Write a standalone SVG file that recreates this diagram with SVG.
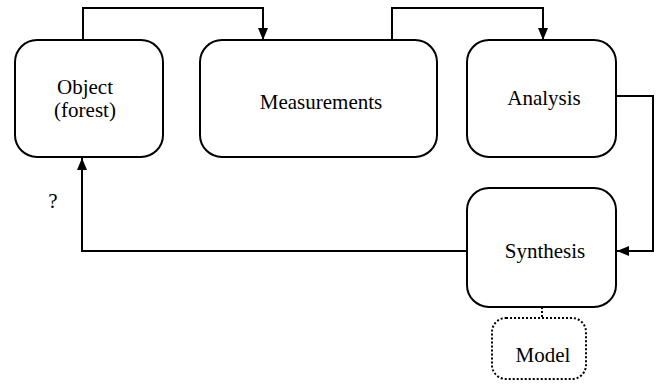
<svg xmlns="http://www.w3.org/2000/svg" width="656" height="391" viewBox="0 0 656 391">
<style>
.box{fill:#fff;stroke:#000;stroke-width:2}
.dot{fill:#fff;stroke:#000;stroke-width:2;stroke-dasharray:2 2}
.t{font-family:'Liberation Serif','Times New Roman','DejaVu Serif',serif;font-size:21px;fill:#000;text-anchor:middle}
.c{fill:none;stroke:#000;stroke-width:2}
</style>
<defs>
<marker id="a" viewBox="0 0 12 10" refX="12" refY="5" markerWidth="12" markerHeight="10" markerUnits="userSpaceOnUse" orient="auto">
<path d="M0,0 L12,5 L0,10 Z" fill="#000"/>
</marker>
</defs>
<g id="connectors">
<path class="c" d="M83,40 V8 H263 V40" marker-end="url(#a)"/>
<path class="c" d="M392,40 V8 H543 V40" marker-end="url(#a)"/>
<path class="c" d="M616,96 H653 V251 H617" marker-end="url(#a)"/>
<path class="c" d="M467,251 H82 V158" marker-end="url(#a)"/>
<path class="c" d="M542,307 V318" stroke-dasharray="2 2"/>
</g>
<g id="object">
<rect class="box" x="15" y="40" width="148" height="117" rx="22"/>
<text class="t" x="85" y="94">Object</text>
<text class="t" x="85" y="117">(forest)</text>
</g>
<g id="measurements">
<rect class="box" x="200" y="40" width="237" height="117" rx="22"/>
<text class="t" x="321" y="109">Measurements</text>
</g>
<g id="analysis">
<rect class="box" x="467" y="40" width="149" height="117" rx="22"/>
<text class="t" x="544" y="105">Analysis</text>
</g>
<g id="synthesis">
<rect class="box" x="467" y="188" width="149" height="119" rx="22"/>
<text class="t" x="545" y="258">Synthesis</text>
</g>
<g id="model">
<rect class="dot" x="492" y="318" width="94" height="61" rx="14"/>
<text class="t" x="543" y="362">Model</text>
</g>
<text class="t" x="53" y="208">?</text>
</svg>
